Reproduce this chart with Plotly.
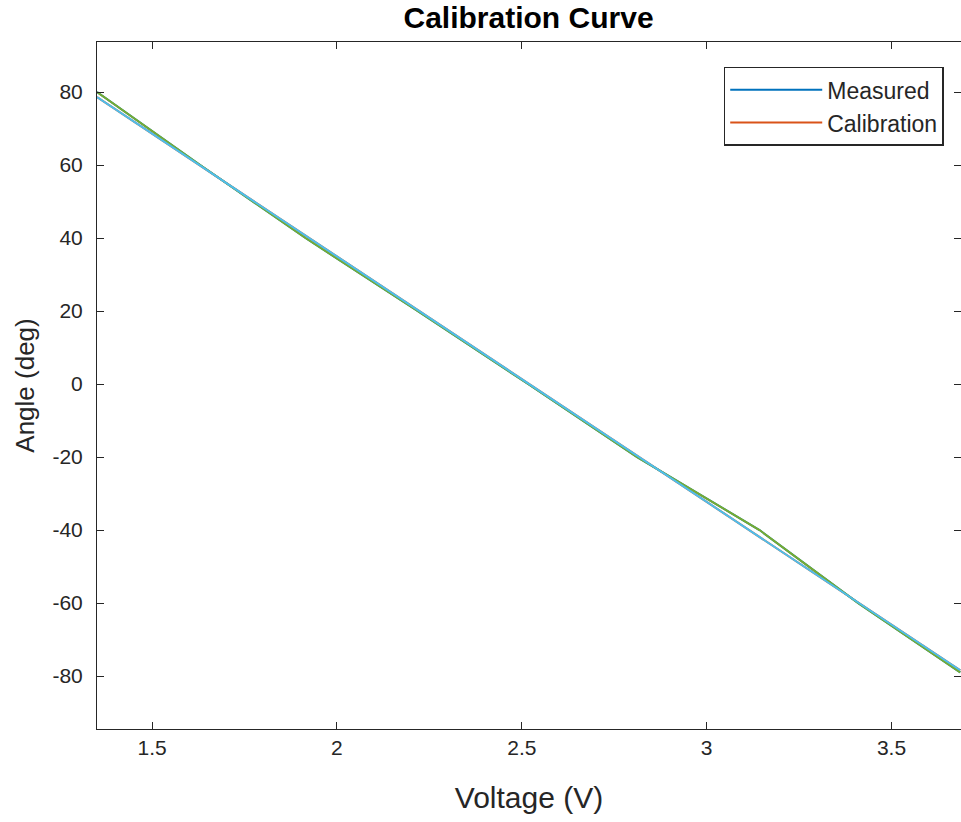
import plotly.graph_objects as go

# measured points (voltage vs angle)
meas_volt = [1.351, 1.630, 1.915, 2.218, 2.517, 2.812, 3.143, 3.410, 3.686]
meas_angle = [80, 60, 40, 20, 0, -20, -40, -60, -79]

# linear calibration fit
cal_volt = [1.351, 3.686]
cal_angle = [78.6, -78.4]

x_ticks = [1.5, 2, 2.5, 3, 3.5]
x_labels = ["1.5", "2", "2.5", "3", "3.5"]
y_ticks = [80, 60, 40, 20, 0, -20, -40, -60, -80]
y_labels = ["80", "60", "40", "20", "0", "-20", "-40", "-60", "-80"]

FONT = 'Liberation Sans, Arial'
INK = '#262626'

fig = go.Figure()
# legend entries (drawn first, then overplotted like the original)
fig.add_trace(go.Scatter(x=meas_volt, y=meas_angle, mode='lines',
    name='Measured', line=dict(color='#0072BD', width=2)))
fig.add_trace(go.Scatter(x=cal_volt, y=cal_angle, mode='lines',
    name='Calibration', line=dict(color='#D95319', width=2)))
fig.add_trace(go.Scatter(x=meas_volt, y=meas_angle, mode='lines',
    showlegend=False, line=dict(color='#77AC30', width=2)))
fig.add_trace(go.Scatter(x=cal_volt, y=cal_angle, mode='lines',
    showlegend=False, line=dict(color='#4DBEEE', width=2)))

axis_style = dict(showgrid=False, zeroline=False, showline=True,
    linecolor=INK, linewidth=1, mirror='ticks', ticks='inside',
    ticklen=7, tickcolor=INK,
    tickfont=dict(family=FONT, size=21, color=INK))

fig.update_layout(
    width=961, height=822,
    margin=dict(l=97, r=0, t=42, b=93),
    plot_bgcolor='white', paper_bgcolor='white',
    title=dict(text='<b>Calibration Curve</b>', x=0.55, xanchor='center',
        y=0.992, yanchor='top',
        font=dict(family=FONT, size=30, color='black')),
    xaxis=dict(range=[1.351, 3.688], tickvals=x_ticks, ticktext=x_labels,
        title=dict(text='Voltage (V)', standoff=28,
            font=dict(family=FONT, size=30, color=INK)),
        **axis_style),
    yaxis=dict(range=[-94.5, 93.7], tickvals=y_ticks, ticktext=y_labels,
        ticklabelstandoff=9,
        title=dict(text='Angle (deg)', standoff=10,
            font=dict(family=FONT, size=26, color=INK)),
        **axis_style),
    legend=dict(x=0.98, y=0.964, xanchor='right', yanchor='top',
        bgcolor='white', bordercolor=INK, borderwidth=1.5,
        font=dict(family=FONT, size=23, color=INK),
        itemwidth=92, tracegroupgap=0),
    showlegend=True)

# drop the default 8px page margin so the figure fills the window exactly
fig.write_html("out.html", config={'displayModeBar': False},
    post_script="document.body.style.margin='0';")
